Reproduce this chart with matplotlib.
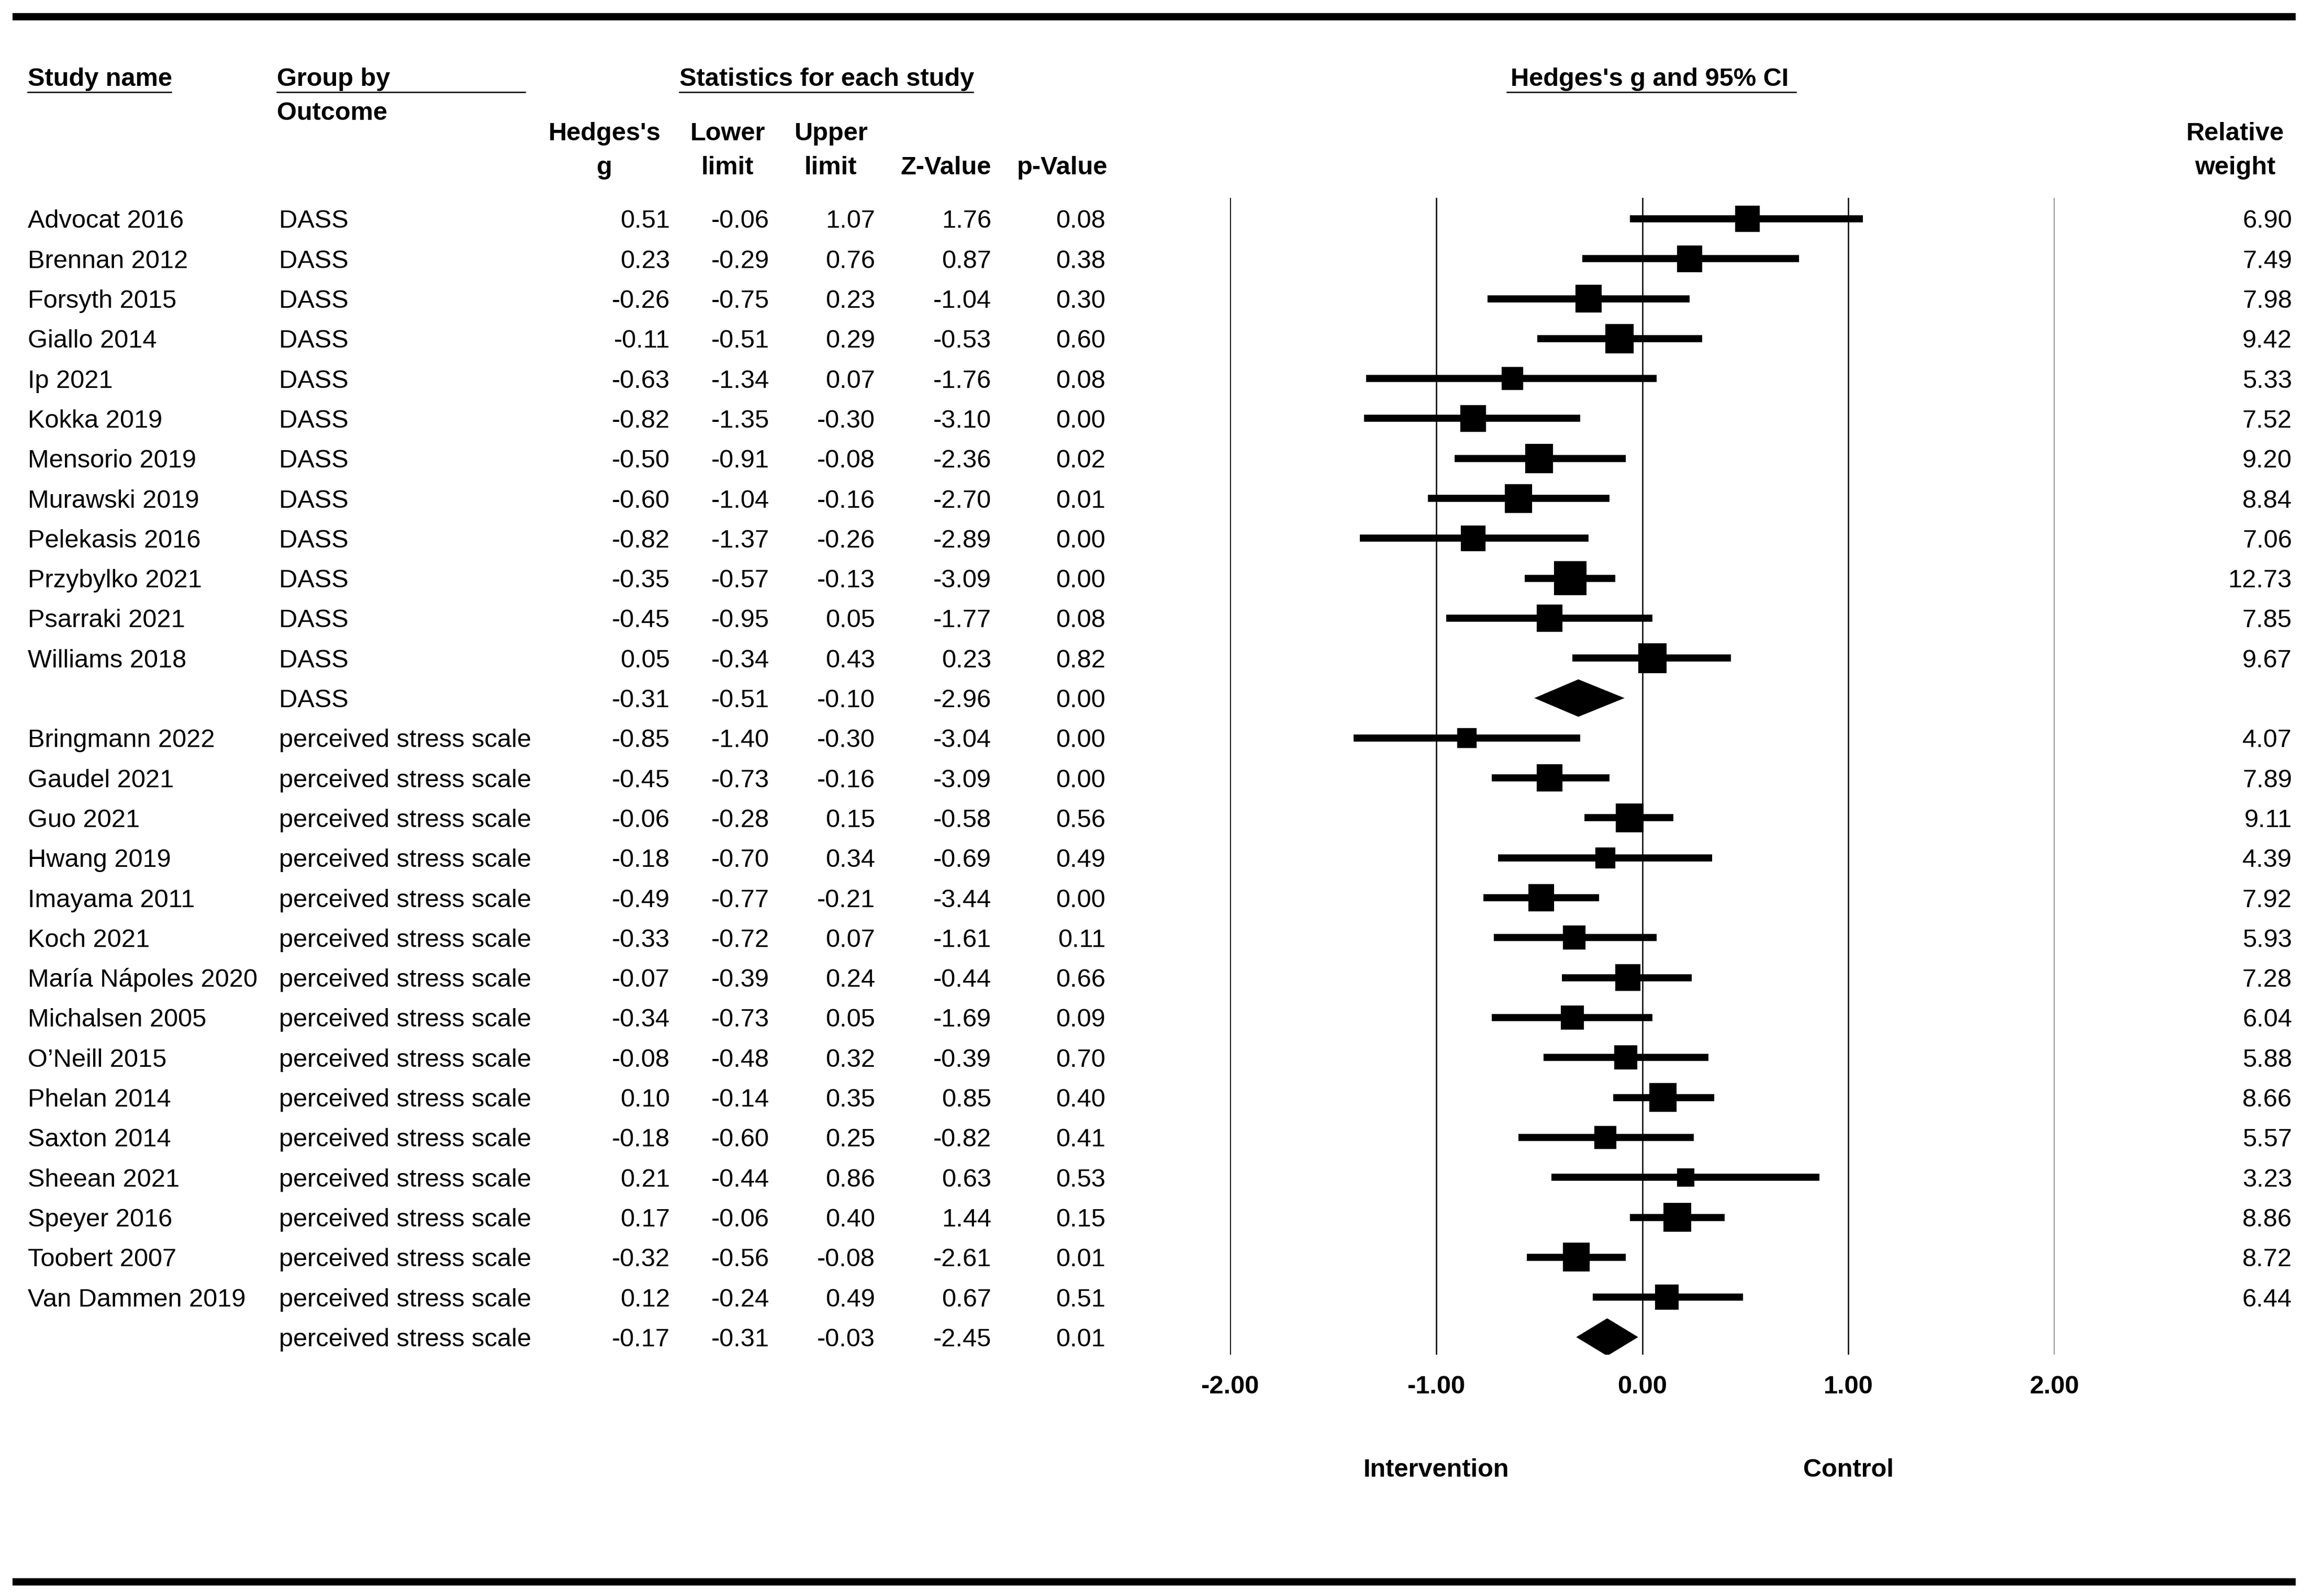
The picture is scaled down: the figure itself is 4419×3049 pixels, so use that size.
import matplotlib
matplotlib.use('Agg')
import matplotlib.pyplot as plt
from matplotlib import font_manager
from matplotlib.patches import Rectangle, Polygon
from matplotlib.transforms import blended_transform_factory
import numpy as np

# data
studies = ['Advocat 2016', 'Brennan 2012', 'Forsyth 2015', 'Giallo 2014', 'Ip 2021',
           'Kokka 2019', 'Mensorio 2019', 'Murawski 2019', 'Pelekasis 2016',
           'Przybylko 2021', 'Psarraki 2021', 'Williams 2018', '',
           'Bringmann 2022', 'Gaudel 2021', 'Guo 2021', 'Hwang 2019', 'Imayama 2011',
           'Koch 2021', 'María Nápoles 2020', 'Michalsen 2005', 'O\u2019Neill 2015',
           'Phelan 2014', 'Saxton 2014', 'Sheean 2021', 'Speyer 2016', 'Toobert 2007',
           'Van Dammen 2019', '']
groups = ['DASS'] * 13 + ['perceived stress scale'] * 16
hedges_g = [0.51, 0.23, -0.26, -0.11, -0.63, -0.82, -0.50, -0.60, -0.82, -0.35, -0.45, 0.05, -0.31,
            -0.85, -0.45, -0.06, -0.18, -0.49, -0.33, -0.07, -0.34, -0.08, 0.10, -0.18, 0.21,
            0.17, -0.32, 0.12, -0.17]
lower = [-0.06, -0.29, -0.75, -0.51, -1.34, -1.35, -0.91, -1.04, -1.37, -0.57, -0.95, -0.34, -0.51,
         -1.40, -0.73, -0.28, -0.70, -0.77, -0.72, -0.39, -0.73, -0.48, -0.14, -0.60, -0.44,
         -0.06, -0.56, -0.24, -0.31]
upper = [1.07, 0.76, 0.23, 0.29, 0.07, -0.30, -0.08, -0.16, -0.26, -0.13, 0.05, 0.43, -0.10,
         -0.30, -0.16, 0.15, 0.34, -0.21, 0.07, 0.24, 0.05, 0.32, 0.35, 0.25, 0.86,
         0.40, -0.08, 0.49, -0.03]
z_value = [1.76, 0.87, -1.04, -0.53, -1.76, -3.10, -2.36, -2.70, -2.89, -3.09, -1.77, 0.23, -2.96,
           -3.04, -3.09, -0.58, -0.69, -3.44, -1.61, -0.44, -1.69, -0.39, 0.85, -0.82, 0.63,
           1.44, -2.61, 0.67, -2.45]
p_value = [0.08, 0.38, 0.30, 0.60, 0.08, 0.00, 0.02, 0.01, 0.00, 0.00, 0.08, 0.82, 0.00,
           0.00, 0.00, 0.56, 0.49, 0.00, 0.11, 0.66, 0.09, 0.70, 0.40, 0.41, 0.53,
           0.15, 0.01, 0.51, 0.01]
weight = [6.90, 7.49, 7.98, 9.42, 5.33, 7.52, 9.20, 8.84, 7.06, 12.73, 7.85, 9.67, None,
          4.07, 7.89, 9.11, 4.39, 7.92, 5.93, 7.28, 6.04, 5.88, 8.66, 5.57, 3.23,
          8.86, 8.72, 6.44, None]
ticks = [-2, -1, 0, 1, 2]
tick_labels = ['-2.00', '-1.00', '0.00', '1.00', '2.00']

# font: narrow Arial-like if there, plain otherwise
names = {f.name for f in font_manager.fontManager.ttflist}
if 'Liberation Sans Narrow' in names:
    FONT, FS = 'Liberation Sans Narrow', 13.4
else:
    FONT, FS = 'Liberation Sans', 11.7
plt.rcParams['font.family'] = FONT

W, H, DPI = 4419, 3049, 300
fig = plt.figure(figsize=(W / DPI, H / DPI), dpi=DPI)

# full figure axes in pixel units for the table part
tab = fig.add_axes([0, 0, 1, 1])
tab.set_xlim(0, W)
tab.set_ylim(H, 0)
tab.axis('off')

ROW0, DY = 418, 76.3                  # cap centre of first row, row pitch (px)
BASE = 0.716 * FS / 72 * DPI / 2      # cap centre -> baseline


def row_px(i):
    return ROW0 + i * DY


# thick rules top and bottom
for yb in (32, 3022):
    tab.plot([24, 4386], [yb, yb], color='black', lw=14 * 72 / DPI, solid_capstyle='butt')

# headers
hb = dict(fontsize=FS, fontweight='bold', va='baseline')
tab.text(53, 164, 'Study name', ha='left', **hb)
tab.text(529, 164, 'Group by', ha='left', **hb)
tab.text(529, 229, 'Outcome', ha='left', **hb)
tab.text(1298, 164, 'Statistics for each study', ha='left', **hb)
tab.text(3152, 164, "Hedges's g and 95% CI", ha='center', **hb)
tab.text(1155, 268, "Hedges's", ha='center', **hb)
tab.text(1155, 333, 'g', ha='center', **hb)
tab.text(1390, 268, 'Lower', ha='center', **hb)
tab.text(1390, 333, 'limit', ha='center', **hb)
tab.text(1587, 268, 'Upper', ha='center', **hb)
tab.text(1587, 333, 'limit', ha='center', **hb)
tab.text(1894, 333, 'Z-Value', ha='right', **hb)
tab.text(2116, 333, 'p-Value', ha='right', **hb)
tab.text(4270, 268, 'Relative', ha='center', **hb)
tab.text(4270, 333, 'weight', ha='center', **hb)
for x0, x1 in [(53, 327), (529, 1003), (1298, 1859), (2879, 3431)]:
    tab.plot([x0, x1], [176, 176], color='black', lw=0.6)

# table rows
cols = [(1280, hedges_g), (1470, lower), (1672, upper), (1894, z_value), (2112, p_value)]
for i in range(len(studies)):
    yb = row_px(i) + BASE
    tab.text(53, yb, studies[i], ha='left', va='baseline', fontsize=FS)
    tab.text(533, yb, groups[i], ha='left', va='baseline', fontsize=FS)
    for xr, vals in cols:
        tab.text(xr, yb, f'{vals[i]:.2f}', ha='right', va='baseline', fontsize=FS)
    if weight[i] is not None:
        tab.text(4379, yb, f'{weight[i]:.2f}', ha='right', va='baseline', fontsize=FS)

# forest axes: x in effect units, y in row units
X0, X1, Y0, Y1 = 2350, 3925, 378, 2588
ax = fig.add_axes([X0 / W, 1 - Y1 / H, (X1 - X0) / W, (Y1 - Y0) / H])
ax.set_xlim(-2, 2)
ax.set_ylim((Y1 - ROW0) / DY, (Y0 - ROW0) / DY)
for s in ax.spines.values():
    s.set_visible(False)
ax.set_yticks([])
for t in ticks:
    ax.axvline(t, color='black', lw=0.6, zorder=1)

PX_X = 393.75   # px per effect unit
for i in range(len(studies)):
    if weight[i] is None:
        hh = 67 / DY / 2
        ax.add_patch(Polygon([(lower[i], i), (hedges_g[i], i - hh), (upper[i], i),
                              (hedges_g[i], i + hh)], closed=True, color='black', zorder=3))
        continue
    ax.plot([lower[i], upper[i]], [i, i], color='black', lw=13.5 * 72 / DPI,
            solid_capstyle='butt', zorder=2)
    sw = 16.2 * np.sqrt(weight[i]) / PX_X
    sh = 17.2 * np.sqrt(weight[i]) / DY
    ax.add_patch(Rectangle((hedges_g[i] - sw / 2, i - sh / 2), sw, sh,
                           color='black', zorder=3))

ax.set_xticks(ticks)
ax.set_xticklabels(tick_labels, fontweight='bold', fontsize=FS)
ax.tick_params(axis='x', length=0, pad=39 * 72 / DPI)

# favours labels under the axis
tr = blended_transform_factory(ax.transData, tab.transData)
tab.text(-1, 2804 + BASE, 'Intervention', transform=tr, ha='center', va='baseline',
         fontsize=FS, fontweight='bold')
tab.text(1, 2804 + BASE, 'Control', transform=tr, ha='center', va='baseline',
         fontsize=FS, fontweight='bold')

fig.savefig('out.png', dpi=DPI, facecolor='white')
